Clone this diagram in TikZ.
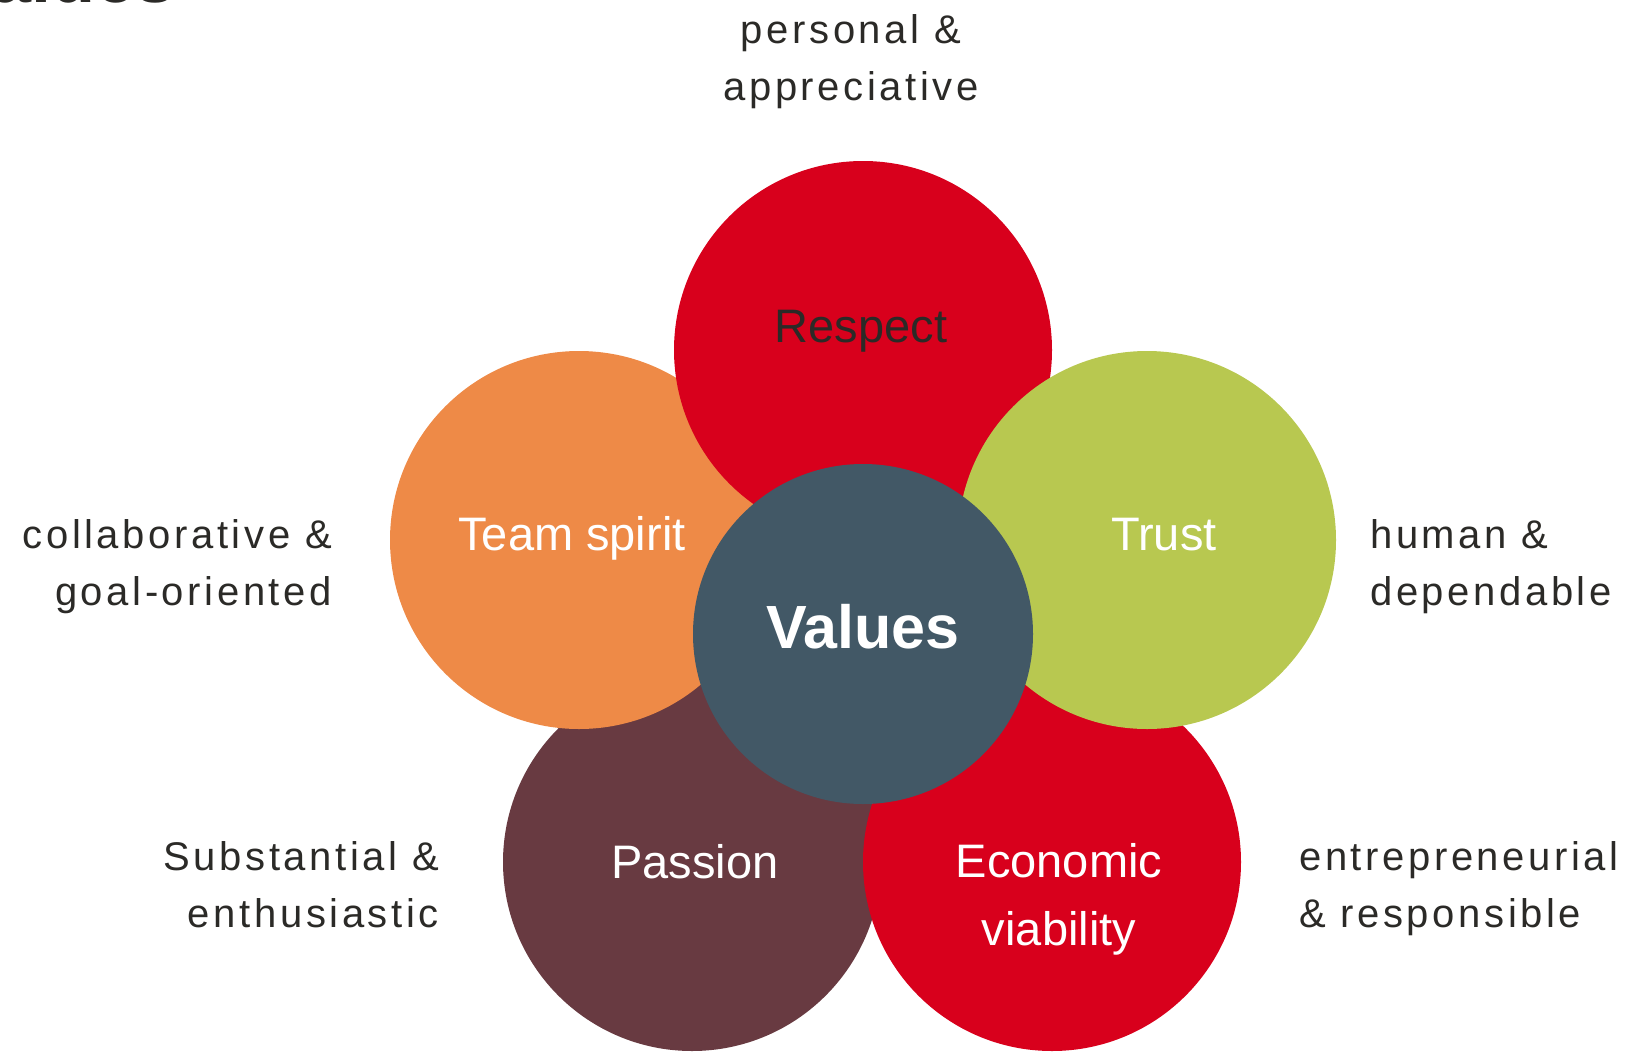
\documentclass[tikz,border=0pt]{standalone}
\usepackage{fontspec}
\setmainfont{Liberation Sans}
\newfontfamily\spacedfont[LetterSpace=9]{Liberation Sans}
\definecolor{cred}{HTML}{D8001C}
\definecolor{corange}{HTML}{EE8A47}
\definecolor{cgreen}{HTML}{B8C850}
\definecolor{cmaroon}{HTML}{683A41}
\definecolor{cslate}{HTML}{425866}
\definecolor{ctext}{HTML}{2B2A27}
\begin{document}
\begin{tikzpicture}[x=1pt,y=-1pt,
  petal/.style={circle,minimum size=378pt,inner sep=0pt},
  outer/.style={text=ctext,inner sep=0pt,font=\spacedfont\fontsize{40}{57}\selectfont},
  inlabel/.style={text=white,inner sep=0pt,font=\fontsize{47}{68}\selectfont}]
\useasboundingbox (0,0) rectangle (1638,1052);
\begin{scope}
\clip (0,0) rectangle (1638,1052);
\node[anchor=base east,inner sep=0pt,text=ctext,font=\fontsize{72}{80}\selectfont\bfseries] (title) at (176,2) {Values};
\end{scope}
% petals
\node[petal,fill=cmaroon] (passion) at (692,862) {};
\node[petal,fill=cred] (econ) at (1052,862) {};
\node[petal,fill=corange] (team) at (579,540) {};
\node[petal,fill=cred] (respect) at (863,350) {};
\node[petal,fill=cgreen] (trust) at (1147,540) {};
\node[circle,minimum size=340pt,inner sep=0pt,fill=cslate] (values) at (863,634) {};
% labels in circles
\node[inlabel,text=ctext] (lrespect) at (861,331) {Respect};
\node[inlabel] (lteam) at (572,538) {Team spirit};
\node[inlabel] (ltrust) at (1164,535) {Trust};
\node[inlabel] (lpassion) at (695,862) {Passion};
\node[inlabel,align=center] (lecon) at (1059,899) {Economic\\viability};
\node[text=white,inner sep=0pt,font=\fontsize{61}{70}\selectfont\bfseries] (lvalues) at (863,627) {Values};
% outer labels
\node[outer,align=center] (o1) at (851,62) {personal \&\\appreciative};
\node[outer,align=right,anchor=east] (o2) at (332,567) {collaborative \&\\goal-oriented};
\node[outer,align=left,anchor=west] (o3) at (1370,567) {human \&\\dependable};
\node[outer,align=right,anchor=east] (o4) at (439,885) {Substantial \&\\enthusiastic};
\node[outer,align=left,anchor=west] (o5) at (1299,889) {entrepreneurial\\\& responsible};
\end{tikzpicture}
\end{document}
